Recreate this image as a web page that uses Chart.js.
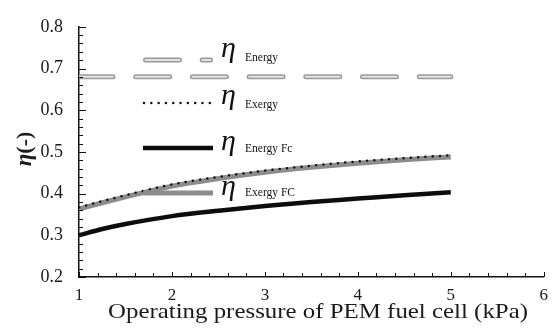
<!DOCTYPE html>
<html>
<head>
<meta charset="utf-8">
<script src="https://cdn.jsdelivr.net/npm/chart.js@4/dist/chart.umd.min.js"></script>
<style>
  html, body { margin: 0; padding: 0; background: #fff; }
</style>
</head>
<body>
<canvas id="myChart" width="556" height="334"></canvas>
<script>
// values
const pressure = [1, 1.25, 1.5, 2, 2.5, 3, 3.5, 4, 4.5, 5];
const etaEnergy = [0.68, 0.68, 0.68, 0.68, 0.68, 0.68, 0.68, 0.68, 0.68, 0.68];
const etaExergy = [0.367, 0.382, 0.396, 0.422, 0.44, 0.455, 0.467, 0.477, 0.485, 0.492];
const etaEnergyFc = [0.3, 0.315, 0.327, 0.346, 0.359, 0.37, 0.38, 0.388, 0.396, 0.403];
const etaExergyFc = [0.363, 0.378, 0.392, 0.418, 0.436, 0.451, 0.463, 0.473, 0.481, 0.488];

const xTicks = [1, 2, 3, 4, 5, 6];
const yTicks = [0.2, 0.3, 0.4, 0.5, 0.6, 0.7, 0.8];
const legendNames = ["Energy", "Exergy", "Energy Fc", "Exergy FC"];
const xTitle = "Operating pressure of PEM fuel cell (kPa)";

const SERIF = "'Liberation Serif', 'Times New Roman', serif";

function toPoints(values) {
  return pressure.map((p, i) => ({ x: p, y: values[i] }));
}

// legend rows: sample line y, eta baseline, label baseline
const legendRows = [
  { line: 60, eta: 57, text: 61 },
  { line: 103, eta: 104, text: 108 },
  { line: 148, eta: 150, text: 152 },
  { line: 193, eta: 195, text: 196 },
];

const decorations = {
  id: "decorations",
  afterDraw(chart) {
    const { ctx, chartArea } = chart;
    const x = chart.scales.x;
    const y = chart.scales.y;
    ctx.save();

    // inward tick marks
    ctx.strokeStyle = "#111";
    ctx.lineWidth = 1;
    ctx.beginPath();
    for (let i = 0; i <= 30; i++) {
      const v = 0.2 + i * 0.02;
      const py = Math.round(y.getPixelForValue(v)) + 0.5;
      const len = i % 5 === 0 ? 7 : 4;
      ctx.moveTo(chartArea.left, py);
      ctx.lineTo(chartArea.left + len, py);
    }
    for (let i = 0; i <= 25; i++) {
      const v = 1 + i * 0.2;
      const px = Math.round(x.getPixelForValue(v)) + 0.5;
      const len = i % 5 === 0 ? 5 : 4;
      ctx.moveTo(px, chartArea.bottom);
      ctx.lineTo(px, chartArea.bottom - len);
    }
    ctx.stroke();

    // legend
    const ds = chart.data.datasets;
    const styles = [ds[1], ds[0], ds[2], ds[3]]; // Energy, Exergy, Energy Fc, Exergy FC
    legendRows.forEach((row, i) => {
      const s = styles[i];
      if (i === 0) {
        [[ds[1].borderColor, ds[1].borderWidth], [ds[4].borderColor, ds[4].borderWidth]].forEach(([c, w]) => {
          ctx.beginPath();
          ctx.setLineDash(ds[1].borderDash);
          ctx.lineCap = "round";
          ctx.strokeStyle = c;
          ctx.lineWidth = w;
          ctx.moveTo(145.5, row.line);
          ctx.lineTo(210.5, row.line);
          ctx.stroke();
        });
      } else {
        ctx.beginPath();
        ctx.setLineDash(s.borderDash || []);
        ctx.lineCap = s.borderCapStyle || "butt";
        ctx.strokeStyle = s.borderColor;
        ctx.lineWidth = s.borderWidth;
        ctx.moveTo(i === 1 ? 144 : 143, row.line);
        ctx.lineTo(213, row.line);
        ctx.stroke();
      }
      ctx.setLineDash([]);
      ctx.fillStyle = "#111";
      ctx.textBaseline = "alphabetic";
      ctx.textAlign = "left";
      ctx.font = "italic 30px " + SERIF;
      ctx.fillText("\u03B7", 221, row.eta);
      ctx.font = "11.5px " + SERIF;
      ctx.fillText(legendNames[i], 245, row.text);
    });

    // x axis title, stretched to the reference width
    ctx.font = "21px " + SERIF;
    ctx.fillStyle = "#1a1a1a";
    ctx.textAlign = "center";
    const w = ctx.measureText(xTitle).width;
    ctx.save();
    ctx.translate(318, 318);
    ctx.scale(420 / w, 1);
    ctx.fillText(xTitle, 0, 0);
    ctx.restore();

    // y axis title
    ctx.save();
    ctx.translate(31, 149);
    ctx.rotate(-Math.PI / 2);
    ctx.font = "bold italic 23px " + SERIF;
    const etaW = ctx.measureText("\u03B7").width;
    ctx.font = "bold 22px " + SERIF;
    const parW = ctx.measureText("(-)").width;
    const start = -(etaW + parW) / 2;
    ctx.textAlign = "left";
    ctx.font = "bold italic 23px " + SERIF;
    ctx.fillText("\u03B7", start, 0);
    ctx.font = "bold 22px " + SERIF;
    ctx.fillText("(-)", start + etaW, 0);
    ctx.restore();

    ctx.restore();
  },
};

const ctx = document.getElementById("myChart");

new Chart(ctx, {
  type: "line",
  data: {
    datasets: [
      {
        label: "Exergy",
        data: toPoints(etaExergy),
        borderColor: "#111",
        borderWidth: 2.5,
        borderDash: [0.01, 7.3],
        borderCapStyle: "round",
        cubicInterpolationMode: "monotone",
        pointRadius: 0,
      },
      {
        label: "Energy",
        data: toPoints(etaEnergy),
        borderColor: "#999",
        borderWidth: 5,
        borderDash: [34, 22.7],
        borderCapStyle: "round",
        pointRadius: 0,
      },
      {
        label: "Energy Fc",
        data: toPoints(etaEnergyFc),
        borderColor: "#0d0d0d",
        borderWidth: 4.5,
        cubicInterpolationMode: "monotone",
        pointRadius: 0,
      },
      {
        label: "Exergy FC",
        data: toPoints(etaExergyFc),
        borderColor: "#8c8c8c",
        borderWidth: 5,
        cubicInterpolationMode: "monotone",
        pointRadius: 0,
      },
      {
        label: "Energy inner",
        data: toPoints(etaEnergy),
        borderColor: "#e2e2e2",
        borderWidth: 2,
        borderDash: [34, 22.7],
        borderCapStyle: "round",
        pointRadius: 0,
        order: -1,
      },
    ],
  },
  options: {
    responsive: false,
    animation: false,
    layout: { padding: { top: 21, right: 4, left: 0, bottom: 0 } },
    plugins: {
      legend: { display: false },
      tooltip: { enabled: false },
    },
    scales: {
      x: {
        type: "linear",
        min: 1,
        max: 6,
        afterBuildTicks: (scale) => {
          scale.ticks = xTicks.map((v) => ({ value: v }));
        },
        afterFit: (scale) => {
          scale.height = 57;
        },
        ticks: {
          padding: 8,
          color: "#1a1a1a",
          font: { family: SERIF, size: 17 },
          maxRotation: 0,
        },
        grid: { display: false, drawTicks: false },
        border: { display: true, color: "#111", width: 1.5 },
      },
      y: {
        min: 0.2,
        max: 0.8,
        afterBuildTicks: (scale) => {
          scale.ticks = yTicks.map((v) => ({ value: v }));
        },
        afterFit: (scale) => {
          scale.width = 79;
        },
        ticks: {
          padding: 16,
          color: "#1a1a1a",
          font: { family: SERIF, size: 18 },
          callback: (v) => v.toFixed(1),
        },
        grid: { display: false, drawTicks: false },
        border: { display: true, color: "#111", width: 1.5 },
      },
    },
  },
  plugins: [decorations],
});
</script>
</body>
</html>
